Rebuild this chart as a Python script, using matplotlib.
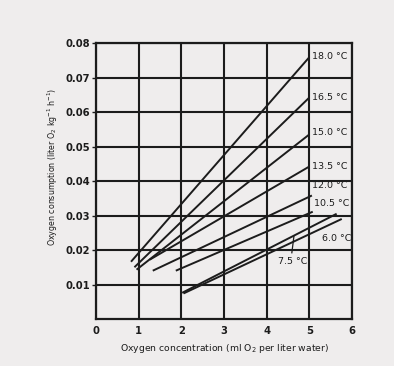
import matplotlib
matplotlib.use("Agg")
import matplotlib.pyplot as plt

# Temperature lines: start and end points
temps = ["18.0 °C", "16.5 °C", "15.0 °C", "13.5 °C", "12.0 °C", "10.5 °C", "7.5 °C", "6.0 °C"]
x_start = [0.82, 0.90, 0.95, 1.26, 1.33, 1.87, 2.02, 2.05]
y_start = [0.0166, 0.0150, 0.0143, 0.0172, 0.0140, 0.0140, 0.0076, 0.0074]
x_end = [5.00, 5.00, 5.00, 5.00, 5.06, 5.08, 5.64, 5.76]
y_end = [0.0759, 0.0642, 0.0535, 0.0442, 0.0358, 0.0311, 0.0305, 0.0290]

# Label anchor positions (left edge, vertical centre)
label_x = [5.06, 5.06, 5.06, 5.06, 5.06, 5.10, 4.26, 5.29]
label_y = [0.0762, 0.0642, 0.0540, 0.0442, 0.0387, 0.0334, 0.0168, 0.0233]

x_ticks = [0, 1, 2, 3, 4, 5, 6]
y_ticks = [0.01, 0.02, 0.03, 0.04, 0.05, 0.06, 0.07, 0.08]

paper = "#efeded"
ink = "#1c1c1c"

fig = plt.figure(figsize=(3.94, 3.66), dpi=100, facecolor=paper)
ax = fig.add_axes([0.2437, 0.1284, 0.6497, 0.7541])
ax.set_facecolor(paper)

ax.set_xlim(0, 6)
ax.set_ylim(0, 0.08)
ax.set_xticks(x_ticks)
ax.set_yticks(y_ticks)
ax.set_xticklabels([str(v) for v in x_ticks])
ax.set_yticklabels([f"{v:.2f}" for v in y_ticks])
ax.grid(True, color=ink, linewidth=1.5)
ax.set_axisbelow(True)
for spine in ax.spines.values():
    spine.set_color(ink)
    spine.set_linewidth(1.6)
ax.tick_params(axis="y", length=3, width=1, color=ink, labelsize=7.2, pad=1,
               labelcolor=ink)
ax.tick_params(axis="x", length=0, labelsize=7.2, pad=5, labelcolor=ink)
for lbl in ax.get_xticklabels() + ax.get_yticklabels():
    lbl.set_fontweight("bold")

for i in range(len(temps)):
    ax.plot([x_start[i], x_end[i]], [y_start[i], y_end[i]], color=ink,
            linewidth=1.4, solid_capstyle="butt")
    ax.text(label_x[i], label_y[i], temps[i], fontsize=6.8, color=ink,
            ha="left", va="center")

# Pointer from the 7.5 °C label up to its line
ax.plot([4.59, 4.64], [0.0192, 0.0241], color=ink, linewidth=0.9)

ax.set_xlabel("Oxygen concentration (ml O$_2$ per liter water)", fontsize=6.7,
              color=ink, labelpad=4)
fig.text(0.135, 0.545, "Oxygen consumption (liter O$_2$ kg$^{-1}$ h$^{-1}$)",
         fontsize=5.7, color=ink, rotation=90, ha="center", va="center")

fig.savefig("out.png", dpi=100, facecolor=paper)
